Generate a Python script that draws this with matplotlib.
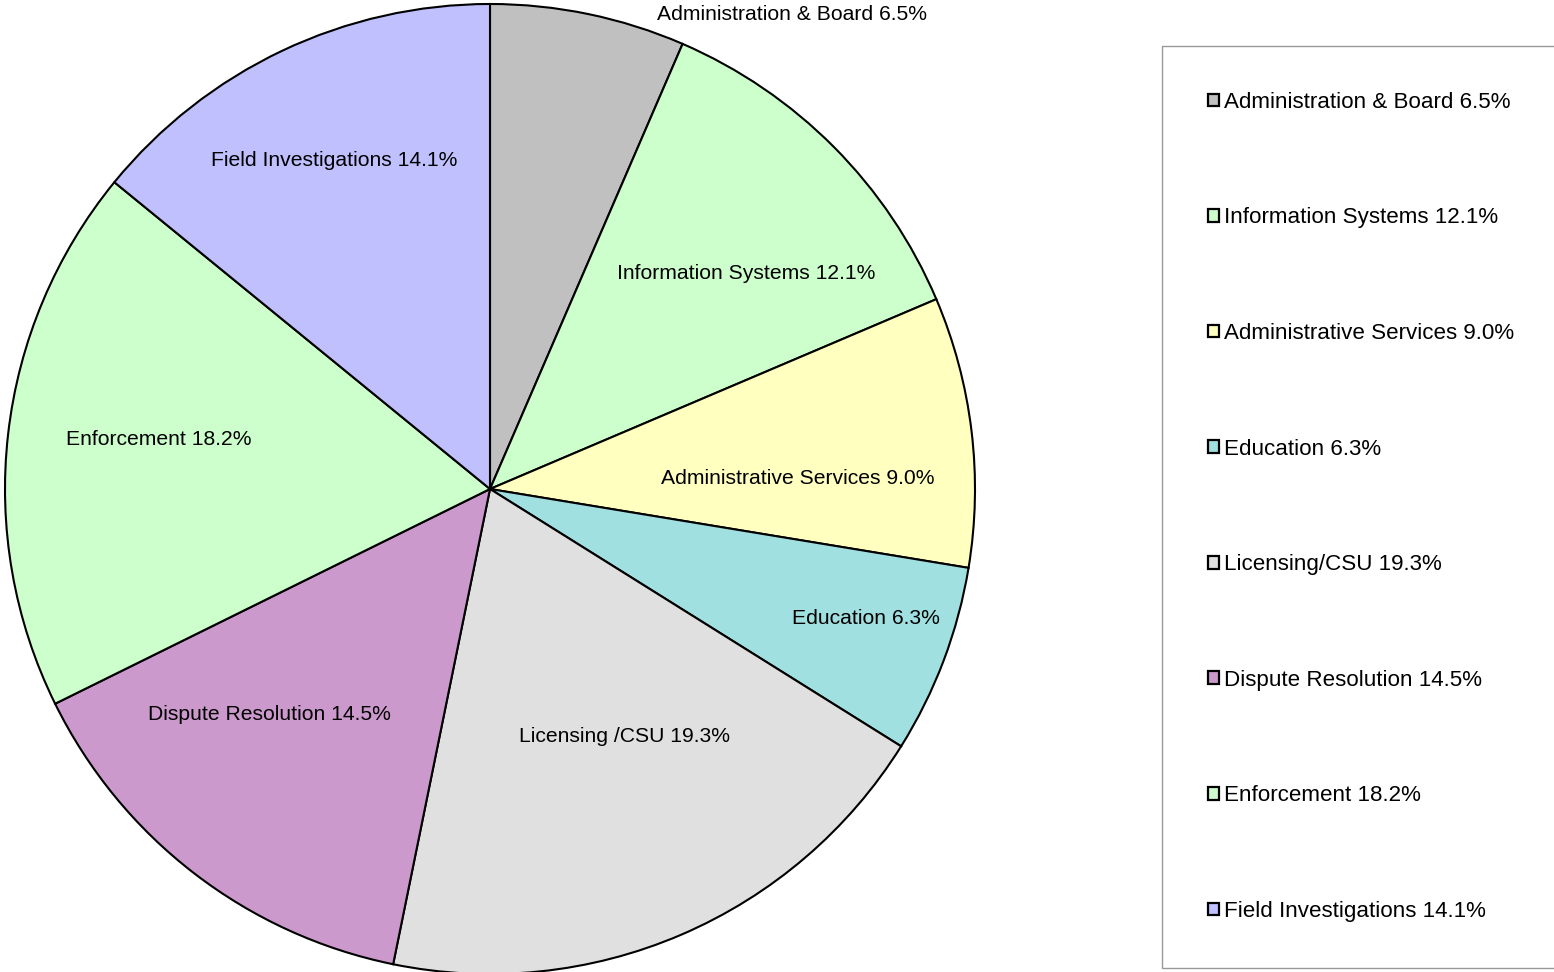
import numpy as np
import matplotlib
matplotlib.use("Agg")
import matplotlib.pyplot as plt
from matplotlib.patches import Patch

plt.rcParams['font.family'] = ['Liberation Sans', 'DejaVu Sans']

# --- Données ---------------------------------------------------
categories = ["Administration & Board", "Information Systems", "Administrative Services",
              "Education", "Licensing /CSU", "Dispute Resolution", "Enforcement",
              "Field Investigations"]
legend_names = ["Administration & Board", "Information Systems", "Administrative Services",
                "Education", "Licensing/CSU", "Dispute Resolution", "Enforcement",
                "Field Investigations"]
shares = [6.5, 12.1, 9.0, 6.3, 19.3, 14.5, 18.2, 14.1]
colors = ["#C0C0C0", "#CCFFCC", "#FFFFC0", "#A0E0E0", "#E0E0E0", "#CC99CC", "#CCFFCC", "#C0C0FF"]

# position des étiquettes : (rayon relatif, décalage angulaire en degrés)
label_pos = [(1.16, -20.8), (0.69, -4.8), (0.635, -4.9), (0.82, 1.7),
             (0.58, 5.3), (0.65, -6.8), (0.69, -2.0), (0.75, -0.1)]

fig = plt.figure(figsize=(15.54, 9.72), dpi=100)
ax = fig.add_axes([5 / 1554, -2 / 972, 970 / 1554, 970 / 972])

wedges, _ = ax.pie(shares, colors=colors, startangle=90, counterclock=False,
                   wedgeprops=dict(edgecolor='black', linewidth=1.5))

# étiquettes dans les parts
cum = np.cumsum([0] + shares[:-1])
for name, v, c0, (r, da) in zip(categories, shares, cum, label_pos):
    theta = np.deg2rad(90 - (c0 + v / 2) * 3.6 + da)
    ax.text(r * np.cos(theta), r * np.sin(theta), f"{name} {v:.1f}%",
            ha='center', va='center', fontsize=15.2)

ax.set_xlim(-1, 1)
ax.set_ylim(-1, 1)
ax.set_aspect('equal')
ax.axis('off')

handles = [Patch(facecolor=c, edgecolor='black', linewidth=1.6) for c in colors]
labels = [f"{n} {v:.1f}%" for n, v in zip(legend_names, shares)]
leg = fig.legend(handles, labels, loc='upper left',
                 bbox_to_anchor=(1162 / 1554, 0, 0.3, 1 - 46 / 972), mode='expand',
                 fontsize=16.1, frameon=True, fancybox=False, borderpad=2.05,
                 labelspacing=4.23, handlelength=0.5, handleheight=0.5,
                 handletextpad=0.22, borderaxespad=0)
leg.get_frame().set_edgecolor('#808080')
leg.get_frame().set_linewidth(1.0)

fig.savefig("out.png", dpi=100)
